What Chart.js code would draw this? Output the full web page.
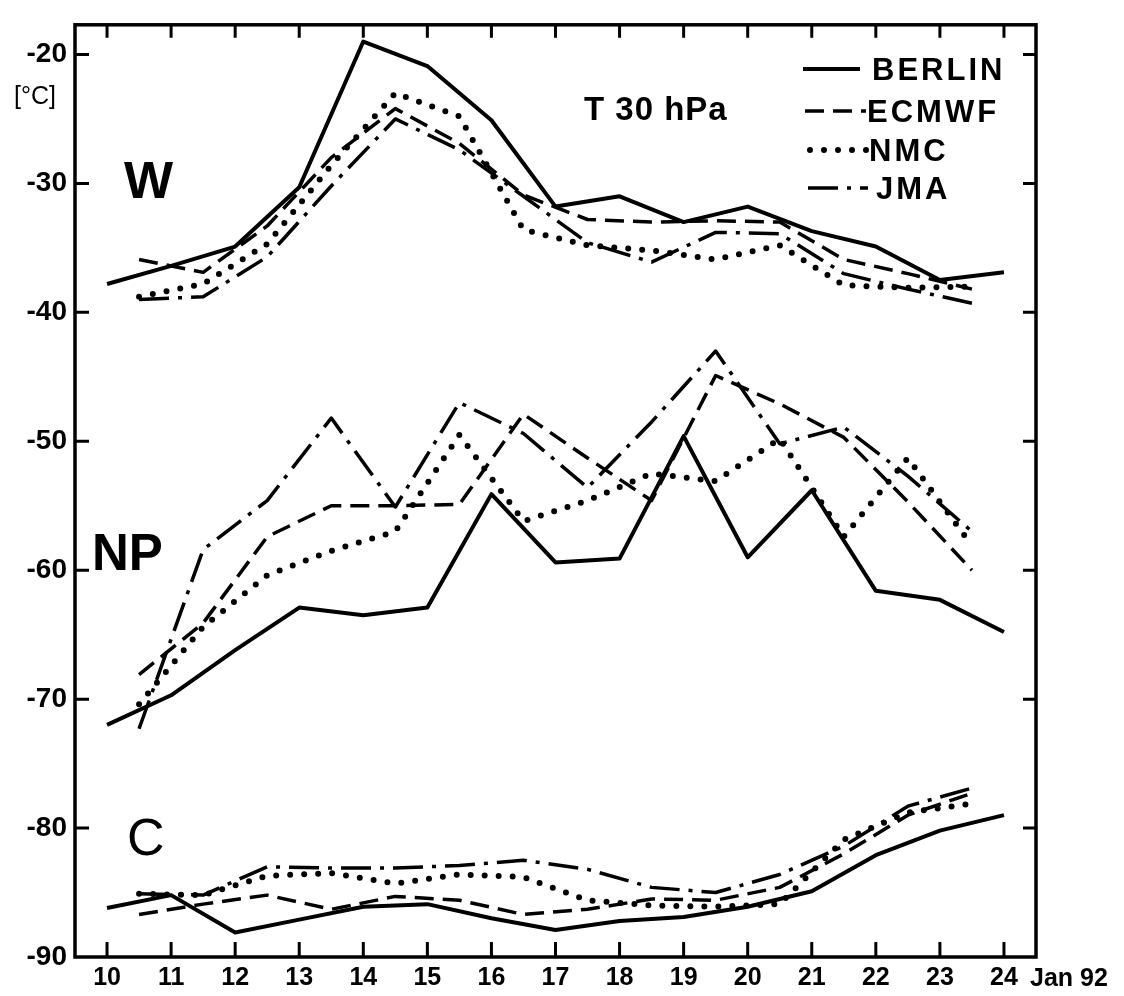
<!DOCTYPE html>
<html>
<head>
<meta charset="utf-8">
<script src="https://cdn.jsdelivr.net/npm/chart.js@4.4.1/dist/chart.umd.min.js"></script>
<style>
  html, body { margin: 0; padding: 0; background: #fff; }
  canvas { display: block; }
</style>
</head>
<body>
<canvas id="chart" width="1124" height="996"></canvas>
<script>
const FONT = '"Liberation Sans", Arial, Helvetica, sans-serif';

// axis ticks
const dayTicks = [10, 11, 12, 13, 14, 15, 16, 17, 18, 19, 20, 21, 22, 23, 24];
const tempTicks = [-90, -80, -70, -60, -50, -40, -30, -20];

// BERLIN analyses on whole days, model analyses on half days
const berlinDays = [10, 11, 12, 13, 14, 15, 16, 17, 18, 19, 20, 21, 22, 23, 24];
const modelDays = [10.5, 11.5, 12.5, 13.5, 14.5, 15.5, 16.5, 17.5, 18.5, 19.5, 20.5, 21.5, 22.5, 23.5];

// W
const berlinW = [-37.8, -36.4, -34.9, -30.3, -19.0, -20.9, -25.1, -31.8, -31.0, -33.0, -31.8, -33.7, -34.9, -37.5, -36.9];
const ecmwfW  = [-35.9, -36.9, -33.3, -28.0, -24.2, -26.9, -30.9, -32.8, -33.0, -32.9, -33.0, -35.9, -37.0, -38.2];
const nmcW    = [-38.8, -37.8, -34.7, -28.6, -23.0, -24.8, -33.6, -34.8, -35.2, -35.9, -34.8, -37.9, -38.1, -38.0];
const jmaW    = [-39.0, -38.8, -35.7, -30.2, -25.0, -27.4, -31.0, -34.6, -36.1, -33.8, -33.9, -37.0, -38.2, -39.3];

// NP
const berlinNP = [-72.0, -69.7, -66.2, -62.9, -63.5, -62.9, -54.1, -59.4, -59.1, -49.6, -59.0, -53.8, -61.6, -62.3, -64.8];
const ecmwfNP  = [-68.1, -64.1, -57.4, -55.0, -55.0, -54.9, -47.9, -51.3, -54.6, -44.9, -47.1, -49.7, -54.7, -60.0];
const nmcNP    = [-70.4, -64.4, -60.4, -58.5, -57.0, -49.5, -56.2, -54.6, -52.5, -53.1, -49.8, -57.4, -51.3, -58.1];
const jmaNP    = [-72.3, -58.4, -54.6, -48.2, -55.1, -47.0, -49.4, -53.6, -48.5, -43.0, -50.2, -48.9, -52.7, -57.0];

// C
const berlinC = [-86.2, -85.2, -88.1, -87.1, -86.1, -85.9, -87.0, -87.9, -87.2, -86.9, -86.1, -84.9, -82.1, -80.2, -79.0];
const ecmwfC  = [-86.7, -85.9, -85.2, -86.3, -85.3, -85.6, -86.7, -86.3, -85.5, -85.6, -84.6, -82.0, -79.0, -77.3];
const nmcC    = [-85.1, -85.2, -83.7, -83.5, -84.3, -83.6, -83.8, -85.6, -86.0, -86.1, -85.9, -80.9, -78.8, -78.1];
const jmaC    = [-85.1, -85.2, -83.0, -83.1, -83.1, -82.9, -82.5, -83.2, -84.6, -85.0, -83.6, -81.4, -78.3, -76.9];

// line styles per source
const lineStyles = {
  BERLIN: { dash: [], width: 4, cap: 'butt' },
  ECMWF:  { dash: [19, 9], width: 3.5, cap: 'butt' },
  NMC:    { dash: [0, 14], width: 6, cap: 'round' },
  JMA:    { dash: [30, 9, 4, 9], width: 3.5, cap: 'butt' }
};

const sources = ['BERLIN', 'ECMWF', 'NMC', 'JMA'];
const regionSeries = [
  ['W',  [berlinW, ecmwfW, nmcW, jmaW]],
  ['NP', [berlinNP, ecmwfNP, nmcNP, jmaNP]],
  ['C',  [berlinC, ecmwfC, nmcC, jmaC]]
];

const datasets = [];
regionSeries.forEach(([region, list]) => {
  list.forEach((values, k) => {
    const src = sources[k];
    const days = src === 'BERLIN' ? berlinDays : modelDays;
    const st = lineStyles[src];
    datasets.push({
      label: src + ' ' + region,
      data: values.map((v, i) => ({ x: days[i], y: v })),
      borderColor: '#000',
      borderWidth: st.width,
      borderDash: st.dash,
      borderCapStyle: st.cap,
      borderJoinStyle: 'round',
      pointRadius: 0,
      tension: 0,
      fill: false
    });
  });
});

// frame, inward ticks, labels and legend
const decorations = {
  id: 'decorations',
  afterDraw(chart) {
    const { ctx, chartArea: a, scales } = chart;
    const xs = scales.x, ys = scales.y;
    ctx.save();
    ctx.strokeStyle = '#000';
    ctx.lineWidth = 3.5;
    ctx.setLineDash([]);
    ctx.strokeRect(a.left, a.top, a.right - a.left, a.bottom - a.top);

    ctx.lineWidth = 3;
    ctx.beginPath();
    dayTicks.forEach(d => {
      const px = xs.getPixelForValue(d);
      ctx.moveTo(px, a.bottom); ctx.lineTo(px, a.bottom - 15);
      ctx.moveTo(px, a.top); ctx.lineTo(px, a.top + 13);
    });
    tempTicks.forEach(t => {
      if (t === -90) return;
      const py = ys.getPixelForValue(t);
      ctx.moveTo(a.left, py); ctx.lineTo(a.left + 14, py);
      ctx.moveTo(a.right, py); ctx.lineTo(a.right - 13, py);
    });
    ctx.stroke();

    ctx.fillStyle = '#000';
    ctx.textBaseline = 'alphabetic';
    ctx.textAlign = 'left';

    ctx.font = '25px ' + FONT;
    ctx.fillText('[°C]', 14, 104);

    ctx.font = 'bold 52px ' + FONT;
    ctx.fillText('W', 124, 198);
    ctx.font = 'bold 51px ' + FONT;
    ctx.fillText('NP', 92, 570);
    ctx.font = '52px ' + FONT;
    ctx.fillText('C', 127, 855);

    ctx.font = 'bold 33px ' + FONT;
    ctx.letterSpacing = '1px';
    ctx.fillText('T 30 hPa', 584, 120);

    ctx.letterSpacing = '0px';
    ctx.font = 'bold 25px ' + FONT;
    ctx.fillText('Jan 92', 1030, 986);

    // legend
    const legendRows = [
      { src: 'BERLIN', y: 69,  x0: 803, x1: 860, tx: 872 },
      { src: 'ECMWF',  y: 111, x0: 805, x1: 866, tx: 867 },
      { src: 'NMC',    y: 150, x0: 810, x1: 868, tx: 869 },
      { src: 'JMA',    y: 188, x0: 808, x1: 868, tx: 876 }
    ];
    legendRows.forEach(r => {
      const st = lineStyles[r.src];
      ctx.lineWidth = st.width;
      ctx.lineCap = st.cap;
      ctx.setLineDash(st.dash);
      ctx.beginPath();
      ctx.moveTo(r.x0, r.y);
      ctx.lineTo(r.x1, r.y);
      ctx.stroke();
      ctx.setLineDash([]);
      ctx.font = 'bold 31px ' + FONT;
      ctx.letterSpacing = '3px';
      ctx.fillText(r.src, r.tx, r.y + 11);
    });
    ctx.letterSpacing = '0px';
    ctx.restore();
  }
};

new Chart(document.getElementById('chart'), {
  type: 'line',
  data: { datasets },
  options: {
    responsive: false,
    animation: false,
    devicePixelRatio: 1,
    layout: { padding: { top: 20, right: 88, bottom: 0, left: 0 } },
    plugins: {
      legend: { display: false },
      tooltip: { enabled: false }
    },
    scales: {
      x: {
        type: 'linear',
        min: 9.5,
        max: 24.5,
        afterBuildTicks: s => { s.ticks = dayTicks.map(v => ({ value: v })); },
        afterFit: s => { s.height = 39; },
        grid: { display: false, drawTicks: false },
        border: { display: false },
        ticks: {
          color: '#000',
          padding: 6,
          maxRotation: 0,
          autoSkip: false,
          font: { family: FONT, size: 25, weight: 'bold' },
          callback: v => String(v)
        }
      },
      y: {
        type: 'linear',
        min: -90,
        max: -17.7,
        afterBuildTicks: s => { s.ticks = tempTicks.map(v => ({ value: v })); },
        afterFit: s => { s.width = 75; },
        grid: { display: false, drawTicks: false },
        border: { display: false },
        ticks: {
          color: '#000',
          padding: 8,
          autoSkip: false,
          font: { family: FONT, size: 28, weight: 'bold' },
          callback: v => String(v)
        }
      }
    }
  },
  plugins: [decorations]
});
</script>
</body>
</html>
